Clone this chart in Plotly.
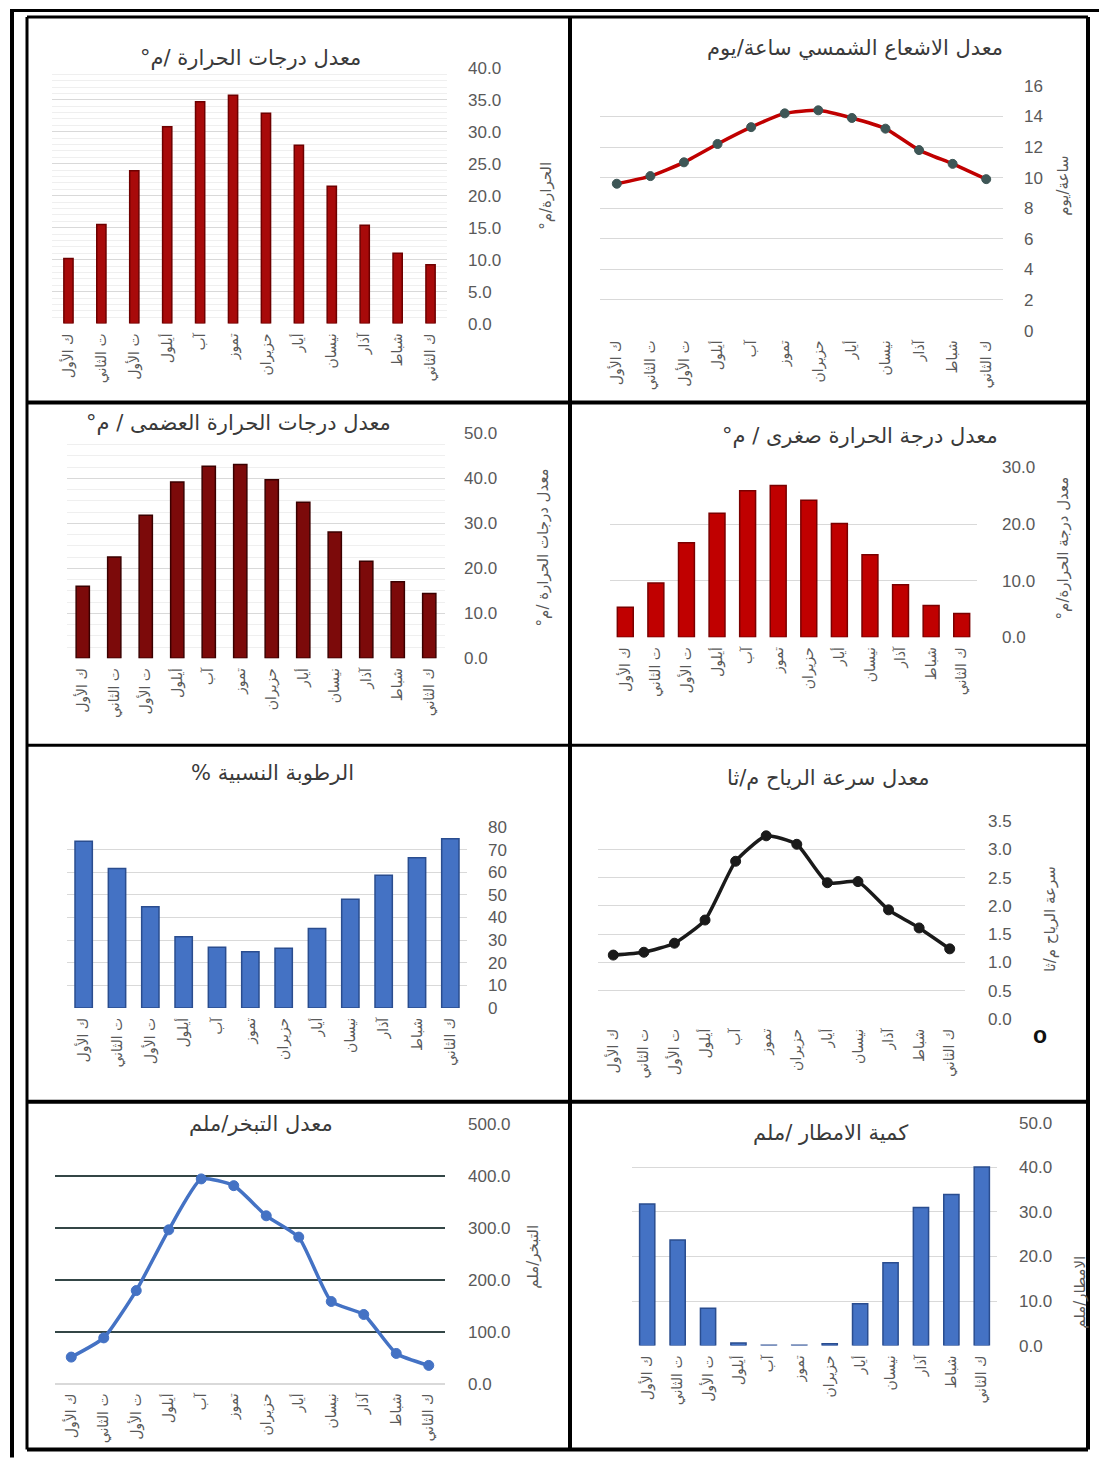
import plotly.graph_objects as go

W = 1099
OFFSET = 8.1       # vertical page offset of the figure
VSCALE = 0.988     # vertical page scale of the figure
H = 1468           # figure height


def fy(y):
    """Vertical page position (px from top) -> paper fraction."""
    return 1 - ((y - OFFSET) / VSCALE) / H


# Months, January -> December (axes are drawn right-to-left)
months = ["ك الثاني", "شباط", "آذار", "نيسان", "أيار", "حزيران",
          "تموز", "آب", "أيلول", "ت الأول", "ت الثاني", "ك الأول"]

temp_mean = [9.2, 11.0, 15.4, 21.5, 27.9, 32.9, 35.7, 34.7, 30.8, 23.9, 15.5, 10.2]
sunshine = [9.9, 10.9, 11.8, 13.2, 13.9, 14.4, 14.2, 13.3, 12.2, 11.0, 10.1, 9.6]
temp_max = [14.4, 17.0, 21.6, 28.1, 34.7, 39.7, 43.1, 42.7, 39.2, 31.8, 22.5, 16.0]
temp_min = [4.2, 5.6, 9.3, 14.6, 20.1, 24.2, 26.8, 25.9, 21.9, 16.7, 9.6, 5.3]
humidity = [74.9, 66.5, 58.7, 48.1, 35.2, 26.4, 24.9, 26.9, 31.5, 44.8, 61.7, 73.7]
wind = [1.24, 1.61, 1.93, 2.43, 2.41, 3.09, 3.24, 2.79, 1.75, 1.34, 1.18, 1.13]
evaporation = [35, 58, 133, 158, 282, 323, 381, 394, 296, 179, 88, 51]
rainfall = [40.1, 33.9, 31.0, 18.6, 9.4, 0.4, 0.1, 0.1, 0.6, 8.4, 23.7, 31.8]

RLM = "\u200f"
AR_FONT = "DejaVu Sans"
NUM_FONT = "Liberation Sans"
GREY = "#595959"

panels = [
    dict(kind="bar", data=temp_mean, title="معدل درجات الحرارة /م°",
         ytitle="الحرارة/م°", box=(52, 447, 323, 67), yr=(0, 40), dtick=5,
         fmt=".1f", minor=1, color="#a80a0a", edge="#6e0000", width=0.28,
         tpos=(250, 57), ypos=(546, 195), standoff=20),
    dict(kind="line", data=sunshine, title="معدل الاشعاع الشمسي ساعة/يوم",
         ytitle="ساعة/يوم", box=(600, 1003, 330, 85), yr=(0, 16), dtick=2,
         fmt="d", line="#c00000", marker="#3e5656", lw=3.5, ms=9,
         tpos=(855, 47), ypos=(1063, 185), standoff=20),
    dict(kind="bar", data=temp_max, title="معدل درجات الحرارة العضمى / م°",
         ytitle="معدل درجات الحرارة /م°", box=(67, 445, 658, 433), yr=(0, 50),
         dtick=10, fmt=".1f", minor=2.5, color="#7c0a0a", edge="#3a0000",
         width=0.42, tpos=(238, 422), ypos=(543, 547), standoff=18),
    dict(kind="bar", data=temp_min, title="معدل درجة الحرارة صغرى / م°",
         ytitle="معدل درجة الحرارة/م°", box=(610, 977, 637, 467), yr=(0, 30),
         dtick=10, fmt=".1f", color="#c00000", edge="#7a0000", width=0.52,
         tpos=(860, 436), ypos=(1063, 548), standoff=24),
    dict(kind="bar", data=humidity, title="الرطوبة النسبية %",
         ytitle=None, box=(67, 467, 1008, 827), yr=(0, 80), dtick=10,
         fmt="d", color="#4472c4", edge="#2a4d8f", width=0.52,
         tpos=(272, 773), ypos=None, standoff=20),
    dict(kind="line", data=wind, title="معدل سرعة الرياح م/ثا",
         ytitle="سرعة الرياح م/ثا", box=(598, 965, 1019, 821), yr=(0, 3.5),
         dtick=0.5, fmt=".1f", line="#1a1a1a", marker="#1a1a1a", lw=3.5, ms=10,
         tpos=(828, 778), ypos=(1050, 919), standoff=22),
    dict(kind="line", data=evaporation, title="معدل التبخر/ملم",
         ytitle="التبخر/ملم", box=(55, 445, 1384, 1124), yr=(0, 500),
         dtick=100, fmt=".1f", line="#4472c4", marker="#4472c4", lw=3.5, ms=10,
         tpos=(261, 1125), ypos=(533, 1257), standoff=22, darkgrid=True),
    dict(kind="bar", data=rainfall, title="كمية الامطار /ملم",
         ytitle="الامطار/ملم", box=(632, 997, 1346, 1123), yr=(0, 50),
         dtick=10, fmt=".1f", color="#4472c4", edge="#2a4d8f", width=0.5,
         tpos=(830, 1134), ypos=(1080, 1293), standoff=21),
]

fig = go.Figure()
layout = dict(width=W, height=H, margin=dict(l=0, r=0, t=0, b=0),
              paper_bgcolor="white", plot_bgcolor="white", showlegend=False,
              annotations=[], shapes=[])

for i, p in enumerate(panels, start=1):
    x0, x1, yb, yt = p["box"]
    xa, ya = f"x{i}", f"y{i}"
    if p["kind"] == "bar":
        fig.add_trace(go.Bar(
            x=months, y=p["data"], xaxis=xa, yaxis=ya, width=p["width"],
            marker=dict(color=p["color"], line=dict(color=p["edge"], width=1.5)),
        ))
    else:
        fig.add_trace(go.Scatter(
            x=months, y=p["data"], xaxis=xa, yaxis=ya, mode="lines+markers",
            line=dict(color=p["line"], width=p["lw"], shape="spline", smoothing=0.5),
            marker=dict(color=p["marker"], size=p["ms"],
                        line=dict(color=p["marker"], width=1)),
        ))

    layout[f"xaxis{i}"] = dict(
        domain=[x0 / W, x1 / W], anchor=ya, type="category",
        range=[11.5, -0.5], tickangle=-90, showgrid=False, ticks="",
        showline=False, zeroline=False, ticklabelstandoff=6,
        tickfont=dict(family=AR_FONT, size=14, color=GREY),
    )
    yax = dict(
        domain=[fy(yb), fy(yt)], anchor=xa, side="right",
        range=list(p["yr"]), dtick=p["dtick"], tick0=0, tickformat=p["fmt"],
        ticks="", showline=False, zeroline=False,
        gridcolor="#d9d9d9", gridwidth=1, ticklabelstandoff=p["standoff"],
        tickfont=dict(family=NUM_FONT, size=17, color=GREY),
    )
    if p.get("minor"):
        yax["minor"] = dict(dtick=p["minor"], showgrid=True,
                            gridcolor="#efefef", gridwidth=1, ticks="")
    if p.get("darkgrid"):
        yax["showgrid"] = False
        yax["zeroline"] = True
        yax["zerolinecolor"] = "#d9d9d9"
        yax["minor"] = dict(tickmode="array", tickvals=[100, 200, 300, 400],
                            showgrid=True, gridcolor="#344646", gridwidth=1.5,
                            ticks="")
    layout[f"yaxis{i}"] = yax

    tx, ty = p["tpos"]
    layout["annotations"].append(dict(
        text=RLM + p["title"] + RLM, x=tx / W, y=fy(ty), xref="paper",
        yref="paper", showarrow=False, xanchor="center", yanchor="middle",
        font=dict(family=AR_FONT, size=21, color="#3a3a3a"),
    ))
    if p["ytitle"]:
        ax_, ay_ = p["ypos"]
        layout["annotations"].append(dict(
            text=RLM + p["ytitle"] + RLM, x=ax_ / W, y=fy(ay_),
            xref="paper", yref="paper", showarrow=False, textangle=-90,
            xanchor="center", yanchor="middle",
            font=dict(family=AR_FONT, size=15, color=GREY),
        ))

# stray degree mark beside the wind-speed axis
layout["annotations"].append(dict(
    text="<b>o</b>", x=1049 / W, y=fy(1050), xref="paper", yref="paper",
    showarrow=False, font=dict(family=NUM_FONT, size=23, color="#111111"),
))


# panel frames
def hline(xa, xb, y, w=3):
    return dict(type="line", xref="paper", yref="paper", x0=xa / W, x1=xb / W,
                y0=fy(y), y1=fy(y), line=dict(color="black", width=w))


def vline(x, ya, yb, w=3):
    return dict(type="line", xref="paper", yref="paper", x0=x / W, x1=x / W,
                y0=fy(ya), y1=fy(yb), line=dict(color="black", width=w))


frames = [
    hline(10, 1099, OFFSET + 1.5, 3), vline(12, OFFSET, 1458, 4),
    hline(27, 1088, 16), hline(27, 1088, 1450, 4),
    vline(27, 16, 1450), vline(1088, 16, 1450, 4),
    vline(570, 16, 1450, 4),
    hline(27, 1088, 402, 4), hline(27, 1088, 745, 3), hline(27, 1088, 1102, 4),
]
layout["shapes"] = frames

fig.update_layout(**layout)
fig.write_html("out.html")
